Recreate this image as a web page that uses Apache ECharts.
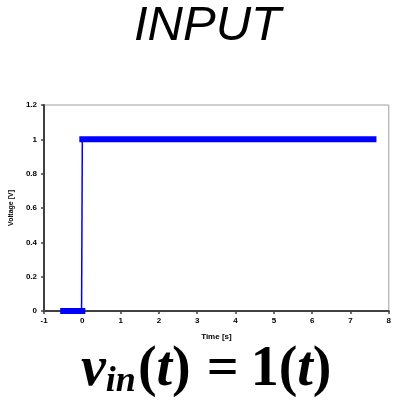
<!DOCTYPE html>
<html>
<head>
<meta charset="utf-8">
<script src="https://cdn.jsdelivr.net/npm/echarts@6/dist/echarts.min.js"></script>
<style>
  html, body { margin: 0; padding: 0; background: #fff; }
  #chart { width: 394px; height: 411px; }
</style>
</head>
<body>
<div id="chart"></div>
<script>
// Unit step input: 0 V before t = 0, 1 V afterwards
var timeLow = [-0.5, 0];
var voltLow = [0, 0];
var timeRise = [-0.02, 0];
var voltRise = [0, 1];
var timeHigh = [0, 7.6];
var voltHigh = [1, 1];

var xTicks = { min: -1, max: 8, interval: 1 };
var yTicks = { min: 0, max: 1.2, interval: 0.2 };

function pairs(xs, ys) {
  return xs.map(function (x, i) { return [x, ys[i]]; });
}

var chart = echarts.init(document.getElementById('chart'), null, { renderer: 'canvas' });

var tickFont = { fontFamily: 'Liberation Sans, Arial, sans-serif', fontWeight: 'bold', fontSize: 8, color: '#000' };
var serif = 'Liberation Serif, Times New Roman, serif';

chart.setOption({
  animation: false,
  backgroundColor: '#fff',
  title: {
    text: 'INPUT',
    left: 129,
    top: -3,
    textStyle: { fontFamily: 'Liberation Sans, Arial, sans-serif', fontStyle: 'italic', fontWeight: 'normal', fontSize: 49, color: '#000' }
  },
  grid: { left: 43, top: 105, right: 5, bottom: 100, show: true, borderColor: '#a0a0a0', borderWidth: 1, backgroundColor: 'transparent' },
  xAxis: {
    type: 'value',
    min: xTicks.min, max: xTicks.max, interval: xTicks.interval,
    name: 'Time [s]',
    nameLocation: 'middle',
    nameGap: 22,
    nameTextStyle: tickFont,
    axisLine: { show: true, onZero: false, lineStyle: { color: '#404040', width: 2 } },
    axisTick: { show: true, inside: false, length: 3, lineStyle: { color: '#404040', width: 1.5 } },
    axisLabel: Object.assign({ margin: 6 }, tickFont),
    splitLine: { show: false }
  },
  yAxis: {
    type: 'value',
    min: yTicks.min, max: yTicks.max, interval: yTicks.interval,
    name: 'Voltage [V]',
    nameLocation: 'middle',
    nameGap: 26,
    nameRotate: 90,
    nameTextStyle: Object.assign({}, tickFont, { fontSize: 7 }),
    axisLine: { show: true, onZero: false, lineStyle: { color: '#404040', width: 2 } },
    axisTick: { show: true, inside: false, length: 3, lineStyle: { color: '#404040', width: 1.5 } },
    axisLabel: Object.assign({ margin: 7 }, tickFont),
    splitLine: { show: false }
  },
  series: [
    {
      type: 'line', data: pairs(timeLow, voltLow), symbol: 'none',
      lineStyle: { color: '#0000ff', width: 6, cap: 'square' }
    },
    {
      type: 'line', data: pairs(timeRise, voltRise), symbol: 'none',
      lineStyle: { color: '#0000ff', width: 1.5 }
    },
    {
      type: 'line', data: pairs(timeHigh, voltHigh), symbol: 'none',
      lineStyle: { color: '#0000ff', width: 6, cap: 'square' }
    }
  ],
  graphic: [
    {
      type: 'text',
      left: 81,
      top: 343,
      style: {
        text: '{v|v}{sub|in}{n|(}{i|t}{n|)}{eq|=}{n|1(}{i|t}{n|)}',
        rich: {
          v: { fontFamily: serif, fontStyle: 'italic', fontWeight: 'bold', fontSize: 56, fill: '#000' },
          sub: { fontFamily: serif, fontStyle: 'italic', fontWeight: 'bold', fontSize: 36, fill: '#000', verticalAlign: 'bottom', padding: [22, 2, 0, 0] },
          i: { fontFamily: serif, fontStyle: 'italic', fontWeight: 'bold', fontSize: 56, fill: '#000' },
          n: { fontFamily: serif, fontWeight: 'bold', fontSize: 56, fill: '#000' },
          eq: { fontFamily: serif, fontWeight: 'bold', fontSize: 56, fill: '#000', padding: [0, 12, 0, 16] }
        }
      }
    }
  ]
});
</script>
</body>
</html>
